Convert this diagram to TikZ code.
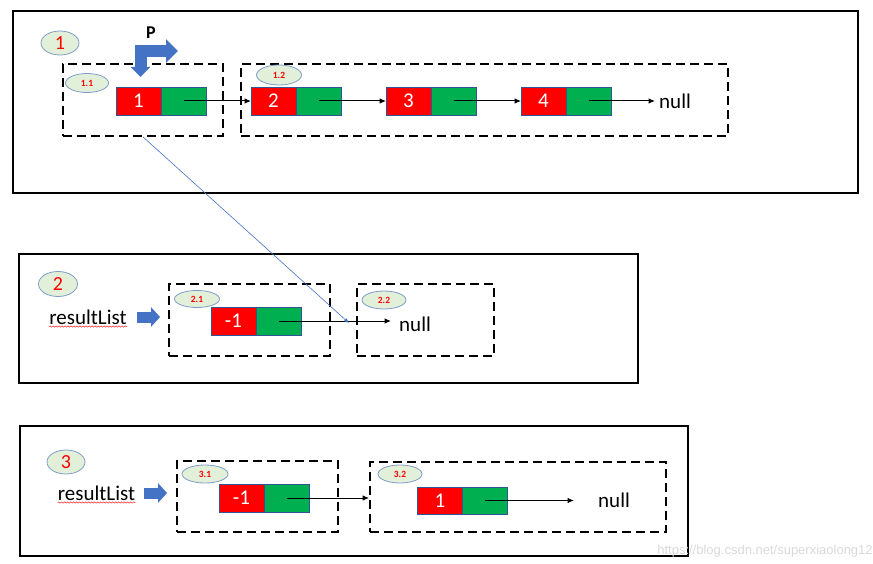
\documentclass[tikz,border=0pt]{standalone}
\usepackage{fontspec}
\setmainfont{Carlito}
\newfontfamily\wmfont{Liberation Sans}
\usetikzlibrary{arrows.meta,positioning,shapes.geometric,decorations.pathmorphing}
\definecolor{cred}{HTML}{FF0000}
\definecolor{cgreen}{HTML}{00B050}
\definecolor{cedge}{HTML}{2F5597}
\definecolor{cblue}{HTML}{4472C4}
\definecolor{cpale}{HTML}{E2F0D9}
\definecolor{coval}{HTML}{7F9CC8}
\tikzstyle{fr} = [draw=black,line width=1.8pt]
\tikzstyle{db} = [rectangle,draw=black,line width=1.8pt,dash pattern=on 9pt off 5pt,minimum height=72,inner sep=0pt]
\tikzstyle{lb} = [ellipse,draw=coval,fill=cpale,line width=0.8pt,inner sep=0pt,text=cred,font=\bfseries\fontsize{9.5}{9.5}\selectfont,minimum width=45,minimum height=18]
\tikzstyle{lc} = [lb,font=\fontsize{20}{20}\selectfont,minimum width=38,minimum height=24]
\tikzstyle{nv} = [rectangle,draw=cedge,fill=cred,line width=0.6pt,minimum width=45,minimum height=28,inner sep=0pt,outer sep=0pt,text=white,font=\fontsize{21}{21}\selectfont]
\tikzstyle{nn} = [nv,fill=cgreen]
\tikzstyle{nt} = [inner sep=0pt,font=\fontsize{21}{21}\selectfont]
\tikzstyle{la} = [draw=black,line width=1pt,-{Latex[length=6.5pt,width=5.5pt]}]
\tikzstyle{ba} = [draw=cblue,line width=11pt,line join=miter,-{Triangle[length=9pt,width=19pt]}]
\tikzstyle{wl} = [draw=cred,line width=0.4pt,decorate,decoration={snake,amplitude=0.7pt,segment length=3pt}]

\begin{document}
\begin{tikzpicture}[x=1pt,y=-1pt]
  \useasboundingbox (0,0) rectangle (873,564);
  \draw[fr] (13,11) rectangle (858,193);
  \draw[fr] (19,254) rectangle (638,383);
  \draw[fr] (20,426) rectangle (688,556);

  \node[lc] (p1) at (60,43) {1};
  \node[nt,font=\bfseries\fontsize{18}{18}\selectfont] (pl) at (151,33) {P};
  \node[db,minimum width=160] (box11) at (143,100) {};
  \node[db,minimum width=487] (box12) at (484.5,100) {};
  \node[lb,minimum width=43,minimum height=19] (e11) at (87,83) {1.1};
  \node[lb,minimum height=20] (e12) at (279,75) {1.2};
  \node[nv] (r1) at (138.5,101) {1};
  \node[nn,right=0pt of r1] (g1) {};
  \node[nv] (r2) at (273.5,101) {2};
  \node[nn,right=0pt of r2] (g2) {};
  \node[nv] (r3) at (408.5,101) {3};
  \node[nn,right=0pt of r3] (g3) {};
  \node[nv] (r4) at (543.5,101) {4};
  \node[nn,right=0pt of r4] (g4) {};
  \node[nt,anchor=west] (null1) at (659,101) {null};
  \coordinate (pe) at (178,51);
  \draw[ba,line width=12pt,{Triangle[length=12pt,width=23pt]}-{Triangle[length=10pt,width=19pt]},shorten >=10pt] (pe) -| ([xshift=2pt]r1.north);
  \draw[la] (g1.center) -- (r2.west);
  \draw[la] (g2.center) -- (r3.west);
  \draw[la] (g3.center) -- (r4.west);
  \draw[la,shorten >=4pt] (g4.center) -- (null1.west);

  \node[lc,minimum width=39,minimum height=25] (p2) at (58,284) {2};
  \node[nt] (rl2) at (88,317) {resultList};
  \draw[wl] ([yshift=-2pt]rl2.south west) -- ([yshift=-2pt]rl2.south east);
  \node[db,minimum width=161] (box21) at (249.5,320) {};
  \node[db,minimum width=137] (box22) at (425.5,320) {};
  \node[lb,minimum height=17] (e21) at (197,299) {2.1};
  \node[lb,minimum width=44] (e22) at (384,300) {2.2};
  \node[nv] (r5) at (233.5,321) {-1};
  \node[nn,right=0pt of r5] (g5) {};
  \node[nt,anchor=west] (null2) at (399,324) {null};
  \draw[ba,shorten <=10pt,shorten >=8pt] (rl2.east) -- (rl2.east -| box21.west);
  \draw[la,shorten >=8pt] (g5.center) -- (g5.center -| null2.west);
  \coordinate (hit) at (349,323);
  \draw[draw=cblue,line width=0.6pt,-{Latex[length=5pt,width=4pt]}] (box11.south) -- (hit);

  \node[lc] (p3) at (66,462) {3};
  \node[nt] (rl3) at (96.5,493) {resultList};
  \draw[wl] ([yshift=-2pt]rl3.south west) -- ([yshift=-2pt]rl3.south east);
  \node[db,minimum width=161,minimum height=71] (box31) at (257.5,496.5) {};
  \node[db,minimum width=296,minimum height=70] (box32) at (518,497) {};
  \node[lb,minimum width=46] (e31) at (205,474) {3.1};
  \node[lb,minimum width=44] (e32) at (400,474) {3.2};
  \node[nv] (r6) at (241.5,498) {-1};
  \node[nn,right=0pt of r6] (g6) {};
  \node[nv,minimum height=27] (r7) at (440,500.5) {1};
  \node[nn,minimum height=27,right=0pt of r7] (g7) {};
  \node[nt,anchor=west] (null3) at (598,500) {null};
  \draw[ba,shorten <=9pt,shorten >=9pt] (rl3.east) -- (rl3.east -| box31.west);
  \draw[la] (g6.center) -- (g6.center -| box32.west);
  \draw[la,shorten >=24pt] (g7.center) -- (g7.center -| null3.west);

  \node[text=gray!30,font=\wmfont\fontsize{13}{13}\selectfont] (wm) at (765,551) {https://blog.csdn.net/superxiaolong12};
\end{tikzpicture}
\end{document}
